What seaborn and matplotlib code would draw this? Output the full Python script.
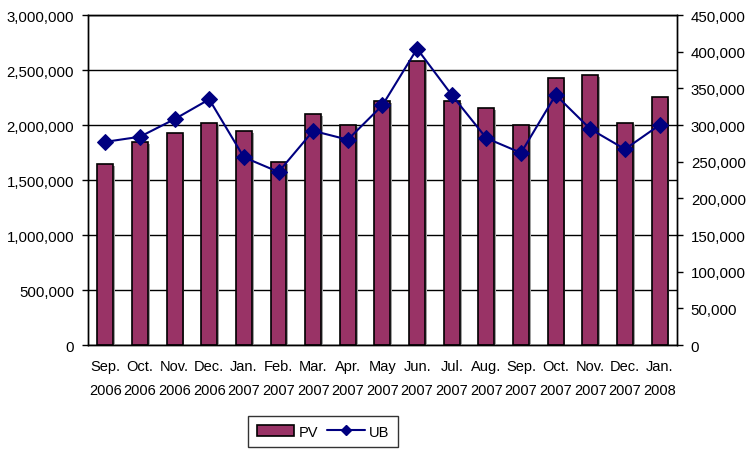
import matplotlib
matplotlib.use("Agg")
import matplotlib.pyplot as plt
import matplotlib.patheffects as pe
from matplotlib.patches import Patch
from matplotlib.lines import Line2D
import numpy as np
import pandas as pd
import seaborn as sns

months = ["Sep.\n2006", "Oct.\n2006", "Nov.\n2006", "Dec.\n2006", "Jan.\n2007",
          "Feb.\n2007", "Mar.\n2007", "Apr.\n2007", "May\n2007", "Jun.\n2007",
          "Jul.\n2007", "Aug.\n2007", "Sep.\n2007", "Oct.\n2007", "Nov.\n2007",
          "Dec.\n2007", "Jan.\n2008"]
pv = [1645000, 1845000, 1927000, 2018000, 1945000, 1664000, 2100000, 2000000,
      2218000, 2582000, 2218000, 2155000, 2000000, 2427000, 2455000, 2015000,
      2255000]
ub = [277000, 284000, 308000, 335000, 256000, 236000, 292000, 280000,
      327000, 404000, 341000, 282000, 262000, 341000, 294500, 267000, 300000]

df = pd.DataFrame({"month": months, "PV": pv, "UB": ub})

sns.set_theme(style="white")
plt.rcParams["font.family"] = ["Liberation Sans", "DejaVu Sans"]
plt.rcParams["font.size"] = 10
plt.rcParams["text.color"] = "black"
plt.rcParams["xtick.color"] = "black"
plt.rcParams["ytick.color"] = "black"

fig = plt.figure(figsize=(7.48, 4.52), dpi=100)
ax = fig.add_axes([0.1176, 0.2345, 0.7874, 0.7301])

bar_color = "#993366"
sns.barplot(data=df, x="month", y="PV", color=bar_color, width=0.46,
            saturation=1, edgecolor="black", linewidth=1.2, ax=ax, zorder=3)
for p in ax.patches:
    p.set_path_effects([pe.SimplePatchShadow(offset=(1.3, -1.3), shadow_rgbFace="#a0a0a0", alpha=1),
                        pe.Normal()])

ax.set_ylim(0, 3000000)
ax.set_yticks(np.arange(0, 3000001, 500000))
ax.set_yticklabels([f"{int(v):,}" for v in np.arange(0, 3000001, 500000)])
ax.yaxis.grid(True, color="black", linewidth=1)
ax.set_axisbelow(True)
ax.set_xlim(-0.5, len(months) - 0.5)
ax.set_xlabel("")
ax.set_ylabel("")
ax.set_xticks(range(len(months)))
ax.set_xticklabels(months, linespacing=1.9)
ax.tick_params(axis="x", length=0, pad=10, labelsize=10.5, labelcolor="black")
ax.set_xticks(np.arange(0.5, len(months) - 0.5, 1), minor=True)
ax.tick_params(axis="x", which="minor", direction="in", length=3, color="black", width=1)
ax.tick_params(axis="y", direction="out", length=4, color="black", width=1,
               labelsize=10.8, pad=6, labelcolor="black")
for s in ax.spines.values():
    s.set_color("black")
    s.set_linewidth(1)

ax2 = ax.twinx()
sns.lineplot(x=np.arange(len(months)), y=df["UB"], color="#000080", marker="D",
             markersize=8, markeredgecolor="#000080", linewidth=1.5, ax=ax2, zorder=5)
ax2.set_ylim(0, 450000)
ax2.set_yticks(np.arange(0, 450001, 50000))
ax2.set_yticklabels([f"{int(v):,}" for v in np.arange(0, 450001, 50000)])
ax2.set_ylabel("")
ax2.tick_params(axis="y", direction="out", length=4, color="black", width=1,
                labelsize=10.8, pad=6, labelcolor="black")
ax2.grid(False)
for s in ax2.spines.values():
    s.set_color("black")
    s.set_linewidth(1)

handles = [Patch(facecolor=bar_color, edgecolor="black", linewidth=1.2, label="PV"),
           Line2D([0], [0], color="#000080", marker="D", markersize=5, linewidth=1.5, label="UB")]
leg = fig.legend(handles=handles, loc="upper center", bbox_to_anchor=(0.432, 0.094),
                 ncol=2, frameon=True, fancybox=False, edgecolor="black",
                 handlelength=2.6, handletextpad=0.3, columnspacing=0.6,
                 borderpad=0.6, fontsize=10.5)
leg.get_frame().set_linewidth(1)
for t in leg.get_texts():
    t.set_color("black")

fig.savefig("out.png", dpi=100)
